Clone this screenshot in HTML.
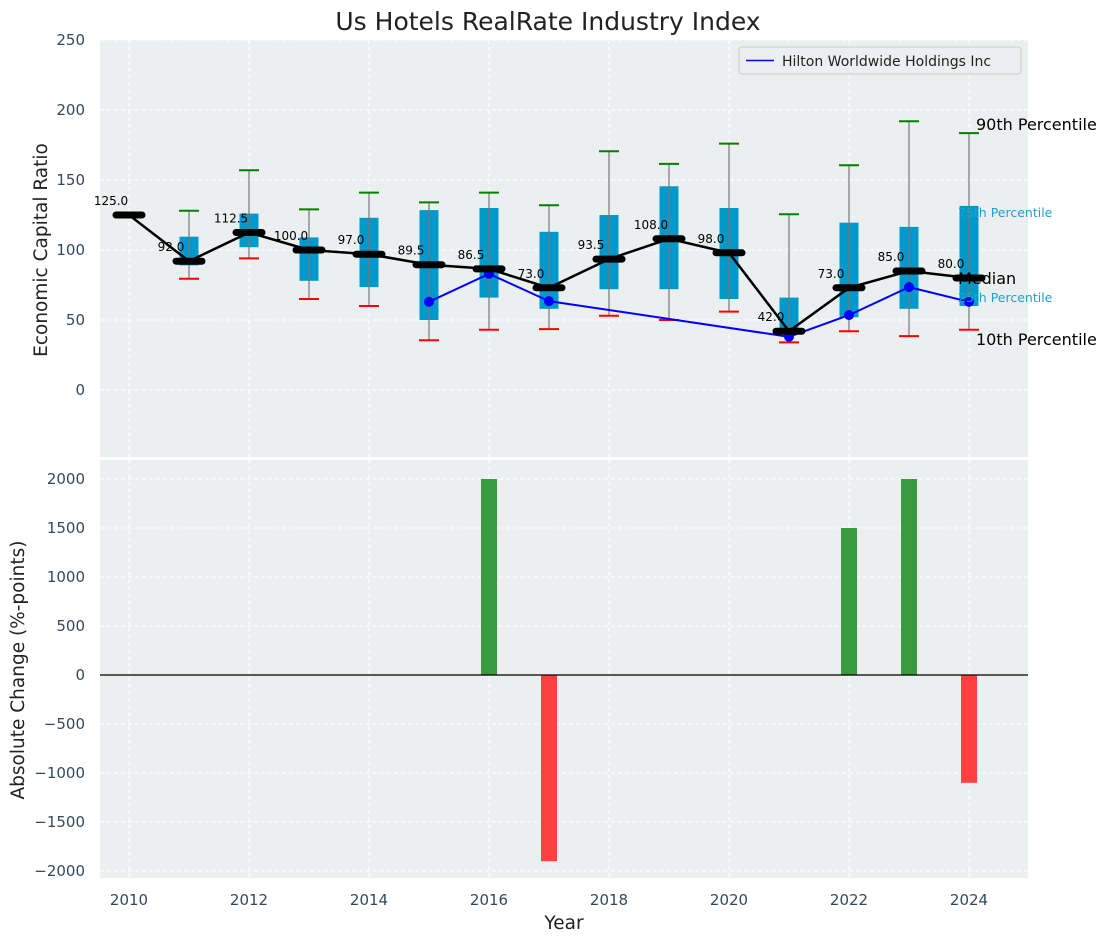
<!DOCTYPE html>
<html><head><meta charset="utf-8"><style>
body{margin:0;background:#fff;font-family:"Liberation Sans","DejaVu Sans",sans-serif}
svg text{font-family:"DejaVu Sans","Liberation Sans",sans-serif}
</style></head><body>
<svg id="c" width="1111" height="942" xmlns="http://www.w3.org/2000/svg"></svg>
<script>
const years=[2010,2011,2012,2013,2014,2015,2016,2017,2018,2019,2020,2021,2022,2023,2024];
const medians=[125,92,112.5,100,97,89.5,86.5,73,93.5,108,98,42,73,85,80];
const q1=[null,89,102,78,73.5,50,66,58,72,72,65,41,52,58,60];
const q3=[null,109.5,126,109,123,128.5,130,113,125,145.5,130,66,119.5,116.5,131.5];
const p10=[null,79.5,94,65,60,35.5,43,43.5,53,50,56,34,42,38.5,43];
const p90=[null,128,157,129,141,134,141,132,170.5,161.5,176,125.5,160.5,192,183.5];
const hiltonYears=[2015,2016,2017,2021,2022,2023,2024];
const hiltonVals=[63,83,63.5,38,53.5,73.5,63];
const changeYears=[2016,2017,2022,2023,2024];
const changeVals=[2000,-1900,1500,2000,-1100];
const topTicks=[0,50,100,150,200,250];
const botTicks=[-2000,-1500,-1000,-500,0,500,1000,1500,2000];
const xTicks=[2010,2012,2014,2016,2018,2020,2022,2024];

const NS="http://www.w3.org/2000/svg";const svg=document.getElementById('c');
function el(t,a,p,txt){const e=document.createElementNS(NS,t);for(const k in a)e.setAttribute(k,a[k]);if(txt!=null)e.textContent=txt;(p||svg).appendChild(e);return e;}
const X0=100,X1=1028;
const x=v=>129+(v-2010)*60;
const yT=v=>390-v*1.4;
const yB=v=>675-v*0.098;
const TT=40,TB=457,BT=460,BB=878;
let r=el('rect',{x:X0,y:TT,width:X1-X0,height:TB-TT,fill:'#eceff0'});

r=el('rect',{x:X0,y:BT,width:X1-X0,height:BB-BT,fill:'#eceff0'});

xTicks.forEach(t=>{[[TT,TB],[BT,BB]].forEach(([a,b])=>el('line',{x1:x(t),x2:x(t),y1:a,y2:b,stroke:'#fff','stroke-dasharray':'4,3'}));});
topTicks.forEach(t=>{el('line',{x1:X0,x2:X1,y1:yT(t),y2:yT(t),stroke:'#fff','stroke-dasharray':'4,3'});
 const tx=el('text',{x:85,y:yT(t)+5,'text-anchor':'end','font-size':15,fill:'#34495e'},null,t);
 });
botTicks.forEach(t=>{el('line',{x1:X0,x2:X1,y1:yB(t),y2:yB(t),stroke:'#fff','stroke-dasharray':'4,3'});
 const tx=el('text',{x:85,y:yB(t)+5,'text-anchor':'end','font-size':15,fill:'#34495e'},null,String(t).replace('-','\u2212'));
 });
xTicks.forEach(t=>{const tx=el('text',{x:x(t),y:905,'text-anchor':'middle','font-size':15,fill:'#34495e'},null,t);
 });
years.forEach((yr,i)=>{
 if(q1[i]==null)return;
 const g=el('g',{});
 el('rect',{x:x(yr)-9.5,y:yT(q3[i]),width:19,height:yT(q1[i])-yT(q3[i]),fill:'#0099cc'},g);
 el('line',{x1:x(yr),x2:x(yr),y1:yT(p90[i]),y2:yT(p10[i]),stroke:'#777','stroke-width':1.2},g);
 el('line',{x1:x(yr)-10,x2:x(yr)+10,y1:yT(p90[i]),y2:yT(p90[i]),stroke:'green','stroke-width':2},g);
 el('line',{x1:x(yr)-10,x2:x(yr)+10,y1:yT(p10[i]),y2:yT(p10[i]),stroke:'red','stroke-width':2},g);
});
let hp=hiltonYears.map((yr,i)=>x(yr)+','+yT(hiltonVals[i])).join(' ');
let hl=el('polyline',{points:hp,fill:'none',stroke:'blue','stroke-width':2});

hiltonYears.forEach((yr,i)=>{const c=el('circle',{cx:x(yr),cy:yT(hiltonVals[i]),r:5,fill:'blue'});
 });
let mp=years.map((yr,i)=>x(yr)+','+yT(medians[i])).join(' ');
let ml=el('polyline',{points:mp,fill:'none',stroke:'#000','stroke-width':2.5});

years.forEach((yr,i)=>{
 const m=el('line',{x1:x(yr)-13,x2:x(yr)+13,y1:yT(medians[i]),y2:yT(medians[i]),stroke:'#000','stroke-width':7,'stroke-linecap':'round'});
 
 const t=el('text',{x:x(yr)-18,y:yT(medians[i])-10,'text-anchor':'middle','font-size':12,fill:'#000'},null,medians[i].toFixed(1));
 
});
const ann=[[976,130,'90th Percentile','#000',16],[958,217,'75th Percentile','#1fa0d0',12.5],[958,284,'Median','#000',16],[958,302,'25th Percentile','#1fa0d0',12.5],[976,345,'10th Percentile','#000',16]];
ann.forEach(a=>{const t=el('text',{x:a[0],y:a[1],'font-size':a[4],fill:a[3]},null,a[2]);
 });
changeYears.forEach((yr,i)=>{const v=changeVals[i];
 const b=el('rect',{x:x(yr)-8,y:Math.min(yB(v),yB(0)),width:16,height:Math.abs(yB(v)-yB(0)),fill:v>=0?'#3a9a3e':'#ff4040'});
 });
el('line',{x1:X0,x2:X1,y1:yB(0),y2:yB(0),stroke:'#000','stroke-width':1.2});
const lg=el('g',{});
el('rect',{x:739,y:47,width:282,height:27,rx:3,fill:'#eceff0',stroke:'#ccc'},lg);
el('line',{x1:746,x2:774,y1:60.5,y2:60.5,stroke:'blue','stroke-width':1.6},lg);
el('text',{x:782,y:66,'font-size':14,fill:'#222'},lg,'Hilton Worldwide Holdings Inc');
let t=el('text',{x:548,y:30,'text-anchor':'middle','font-size':25,fill:'#222'},null,'Us Hotels RealRate Industry Index');

t=el('text',{x:47,y:250,'text-anchor':'middle','font-size':18.5,fill:'#222',transform:'rotate(-90 47 250)'},null,'Economic Capital Ratio');

t=el('text',{x:24,y:670,'text-anchor':'middle','font-size':18.5,fill:'#222',transform:'rotate(-90 24 670)'},null,'Absolute Change (%-points)');

t=el('text',{x:564,y:929,'text-anchor':'middle','font-size':18.5,fill:'#222'},null,'Year');

</script>
</body></html>
